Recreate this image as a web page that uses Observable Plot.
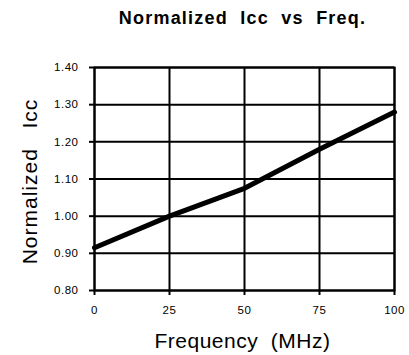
<!DOCTYPE html>
<html><head><meta charset="utf-8">
<script src="https://cdn.jsdelivr.net/npm/d3@7"></script>
<script src="https://cdn.jsdelivr.net/npm/@observablehq/plot@0.6"></script>
<style>html,body{margin:0;padding:0;background:#fff}
.tk text{letter-spacing:0.5px}
</style>
</head><body><div id="chart"></div>
<script>
const title = "Normalized  Icc  vs  Freq.";
const xLabel = "Frequency  (MHz)";
const yLabel = "Normalized  Icc";
const freq = [0, 25, 50, 75, 100];
const icc = [0.915, 1.0, 1.075, 1.18, 1.28];
const xTicks = [0, 25, 50, 75, 100];
const yTicks = [0.8, 0.9, 1.0, 1.1, 1.2, 1.3, 1.4];
const data = freq.map((f, i) => ({f, v: icc[i]}));
const font = "'Liberation Sans', Arial, sans-serif";
const chart = Plot.plot({
  width: 409, height: 355,
  marginLeft: 94, marginRight: 15, marginTop: 67, marginBottom: 65,
  style: {fontFamily: font, background: "white", color: "black", overflow: "visible"},
  x: {domain: [0, 100]},
  y: {domain: [0.8, 1.4]},
  marks: [
    Plot.gridX(xTicks, {stroke: "black", strokeOpacity: 1, strokeWidth: 2}),
    Plot.gridY(yTicks, {stroke: "black", strokeOpacity: 1, strokeWidth: 2}),
    Plot.frame({stroke: "black", strokeWidth: 2}),
    Plot.axisX(xTicks, {tickSize: 5, tickPadding: 10, fontSize: 11.5, label: null, strokeWidth: 2, className: "tk", tickFormat: d => String(d)}),
    Plot.axisY(yTicks, {tickSize: 5, tickPadding: 11, fontSize: 11.5, label: null, strokeWidth: 2, className: "tk", tickFormat: d => d.toFixed(2)}),
    Plot.line(data, {x: "f", y: "v", stroke: "black", strokeWidth: 5}),
    Plot.text([title], {frameAnchor: "top", lineAnchor: "middle", dx: -2, dy: -49.5, fontWeight: "bold", fontSize: 18, fill: "black", className: "ttl"}),
    Plot.text([xLabel], {frameAnchor: "bottom", lineAnchor: "middle", dx: -2, dy: 50.5, fontSize: 21, fill: "black", className: "xl"}),
    Plot.text([yLabel], {frameAnchor: "left", lineAnchor: "middle", textAnchor: "middle", dx: -64, dy: 2.5, rotate: -90, fontSize: 21, fill: "black", className: "yl"})
  ]
});
document.getElementById("chart").append(chart);
const st = document.createElement("style");
st.textContent = `
  .ttl text{letter-spacing:1.2px}
  .xl text{letter-spacing:0.5px}
  .yl text{letter-spacing:1px;word-spacing:3px}
`;
document.head.append(st);
</script>
</body></html>
